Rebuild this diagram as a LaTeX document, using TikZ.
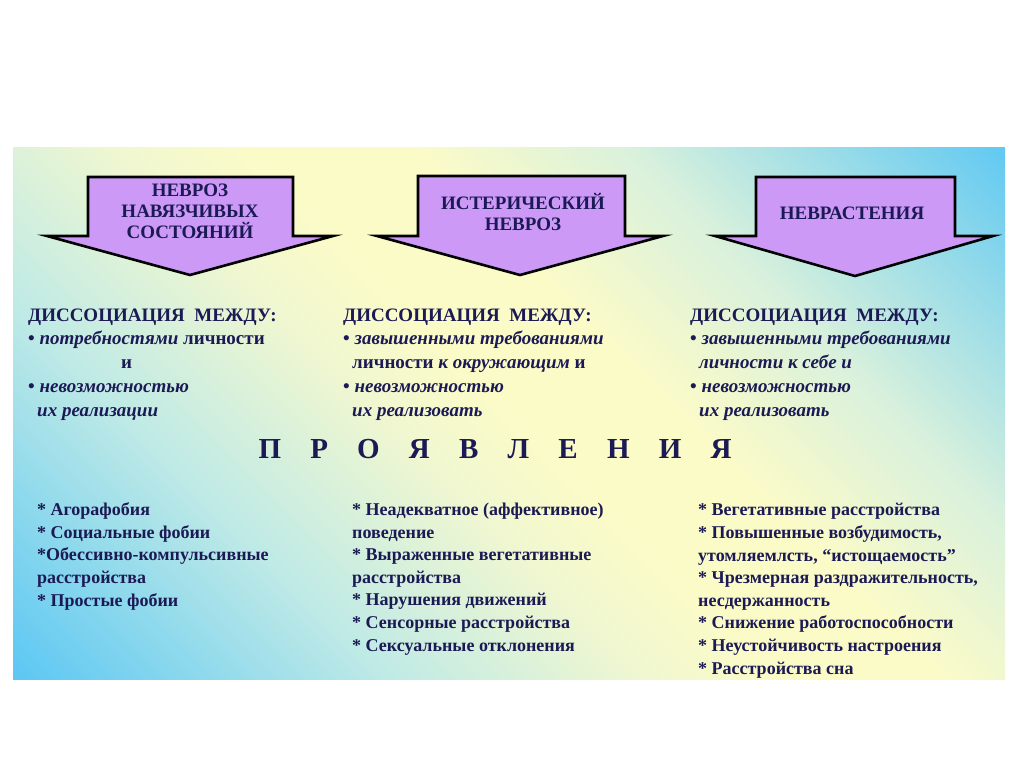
\documentclass[tikz,border=0pt]{standalone}
\usepackage{fontspec}
\setmainfont{Liberation Serif}
\usetikzlibrary{calc}
\definecolor{navy}{HTML}{1C1A55}
\definecolor{lilac}{HTML}{CC99F7}
\definecolor{bgblue}{HTML}{5EC8F3}
\definecolor{bgcyan}{HTML}{BFEAE6}
\definecolor{bgpale}{HTML}{F0F7D0}
\definecolor{bgyellow}{HTML}{FBFBC8}
\definecolor{bggreen}{HTML}{D9F1DC}
\pgfdeclarehorizontalshading{bgband}{100bp}{color(0bp)=(bgblue); color(15bp)=(bgblue); color(32bp)=(bgcyan); color(44bp)=(bgpale); color(50bp)=(bgyellow); color(58bp)=(bgyellow); color(68bp)=(bggreen); color(86bp)=(bgblue); color(100bp)=(bgblue)}
\tikzset{
  bigarrow/.style={fill=lilac, draw=black, line width=2.6pt, line join=miter},
  arrowtext/.style={text=navy, font=\fontsize{19}{21}\selectfont\bfseries, align=center, inner sep=0pt},
  dissoc/.style={text=navy, font=\fontsize{19}{23.7}\selectfont\bfseries, align=left, anchor=base west, inner sep=0pt},
  listtext/.style={text=navy, font=\fontsize{18}{22.6}\selectfont\bfseries, align=left, anchor=base west, inner sep=0pt},
  titletext/.style={text=navy, font=\fontsize{29}{30}\selectfont\bfseries, inner sep=0pt}
}
\begin{document}
\begin{tikzpicture}[x=1pt,y=-1pt]
\useasboundingbox (0,0) rectangle (1024,767);
\fill[white] (0,0) rectangle (1024,767);
\shade[shading=bgband, shading angle=45] (13,148) rectangle (1005,679);

% arrows
\draw[bigarrow] (88,177) -- (293,177) -- (293,236) -- (333,236) -- (190,275) -- (47,236) -- (88,236) -- cycle;
\draw[bigarrow] (418,176) -- (625,176) -- (625,236) -- (663,236) -- (520,275) -- (377,236) -- (418,236) -- cycle;
\draw[bigarrow] (756,177) -- (955,177) -- (955,236) -- (993,236) -- (855,276) -- (715,236) -- (756,236) -- cycle;

\node[arrowtext] (a1) at (190,211) {НЕВРОЗ\\НАВЯЗЧИВЫХ\\СОСТОЯНИЙ};
\node[arrowtext] (a2) at (523,212) {ИСТЕРИЧЕСКИЙ\\НЕВРОЗ};
\node[arrowtext] (a3) at (852,213) {НЕВРАСТЕНИЯ};

% dissociation blocks (anchored at the baseline of the last line)
\node[dissoc] (d1) at (28,416) {ДИССОЦИАЦИЯ\ \ МЕЖДУ:\\
• \textit{потребностями} личности\\
\hspace*{93pt}и\\
• \textit{невозможностью}\\
\hspace*{9pt}\textit{их реализации}};
\node[dissoc] (d2) at (343,416) {ДИССОЦИАЦИЯ\ \ МЕЖДУ:\\
• \textit{завышенными требованиями}\\
\hspace*{9pt}личности \textit{к окружающим} и\\
• \textit{невозможностью}\\
\hspace*{9pt}\textit{их реализовать}};
\node[dissoc] (d3) at (690,416) {ДИССОЦИАЦИЯ\ \ МЕЖДУ:\\
• \textit{завышенными требованиями}\\
\hspace*{9pt}\textit{личности к себе и}\\
• \textit{невозможностью}\\
\hspace*{9pt}\textit{их реализовать}};

% title
\node[titletext] (title) at (495,449) {\spaceskip=29.2pt П Р О Я В Л Е Н И Я};

% lists (anchored at the baseline of the last line)
\node[listtext] (l1) at (37,606) {* Агорафобия\\
* Социальные фобии\\
*Обессивно-компульсивные\\
расстройства\\
* Простые фобии};
\node[listtext] (l2) at (352,651) {* Неадекватное (аффективное)\\
поведение\\
* Выраженные вегетативные\\
расстройства\\
* Нарушения движений\\
* Сенсорные расстройства\\
* Сексуальные отклонения};
\node[listtext] (l3) at (698,674) {* Вегетативные расстройства\\
* Повышенные возбудимость,\\
утомляемлсть, “истощаемость”\\
* Чрезмерная раздражительность,\\
несдержанность\\
* Снижение работоспособности\\
* Неустойчивость настроения\\
* Расстройства сна};
\end{tikzpicture}
\end{document}
